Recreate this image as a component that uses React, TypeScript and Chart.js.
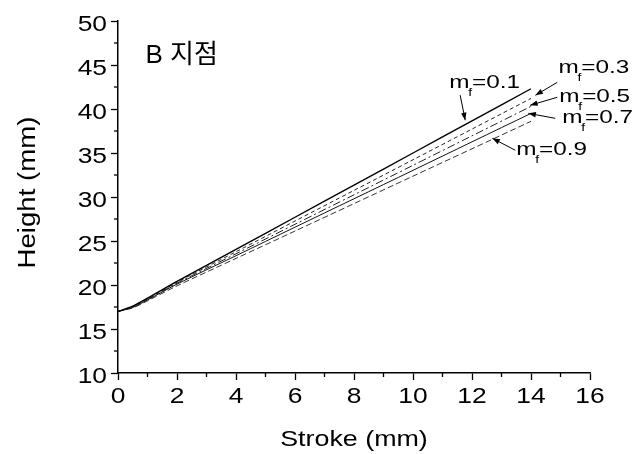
import React, { useEffect, useRef } from "react";
import { Chart, registerables } from "chart.js";

Chart.register(...registerables);

const stroke = [0, 0.5, 1, 2, 4, 6, 8, 10, 12, 14];
const mf01 = [17, 17.6, 18.5, 20.4, 24.05, 27.7, 31.35, 35.0, 38.65, 42.3];
const mf03 = [17, 17.55, 18.4, 20.3, 23.78, 27.27, 30.75, 34.23, 37.72, 41.2];
const mf05 = [17, 17.5, 18.35, 20.2, 23.55, 26.9, 30.25, 33.6, 36.95, 40.3];
const mf07 = [17, 17.45, 18.3, 20.1, 23.33, 26.57, 29.8, 33.03, 36.27, 39.5];
const mf09 = [17, 17.4, 18.2, 19.9, 23.02, 26.13, 29.25, 32.37, 35.48, 38.6];

const seriesNames = ["0.1", "0.3", "0.5", "0.7", "0.9"];
const seriesValues = [mf01, mf03, mf05, mf07, mf09];

const xTicks = [0, 2, 4, 6, 8, 10, 12, 14, 16];
const yTicks = [10, 15, 20, 25, 30, 35, 40, 45, 50];
const xTitle = "Stroke (mm)";
const yTitle = "Height (mm)";

// label anchors in data units
const labelX = [11.23, 14.93, 14.96, 15.06, 13.5];
const labelY = [42.35, 44.06, 40.76, 38.38, 34.74];
const arrowFromX = [11.6, 14.89, 14.89, 14.82, 13.47];
const arrowFromY = [41.57, 43.03, 41.33, 38.94, 35.31];
const arrowToX = [11.77, 14.15, 13.97, 13.91, 12.69];
const arrowToY = [38.72, 41.56, 40.42, 39.51, 36.67];

const titleText = "B 지점";
const titleX = 0.93;
const titleY = 45.2;

const FONT = "'Liberation Sans', Arial, 'Noto Sans CJK KR', sans-serif";
const KFONT = "'Liberation Sans', 'Noto Sans CJK KR', sans-serif";

const styles = [
  { dash: [], width: 1.4, color: "#000" },
  { dash: [4, 3], width: 1, color: "#222" },
  { dash: [8, 3, 2, 3], width: 1, color: "#222" },
  { dash: [], width: 1, color: "#111" },
  { dash: [6, 3], width: 1, color: "#333" },
];

function sText(ctx: any, text: string, x: number, y: number, align: string, sx: number, font: string, rot = 0) {
  ctx.save();
  ctx.translate(x, y);
  if (rot) ctx.rotate(rot);
  ctx.scale(sx, 1);
  ctx.font = font;
  ctx.textAlign = align;
  ctx.textBaseline = "alphabetic";
  ctx.fillText(text, 0, 0);
  ctx.restore();
}

const overlay = {
  id: "overlay",
  afterDraw(chart: any) {
    const ctx = chart.ctx;
    const xs = chart.scales.x;
    const ys = chart.scales.y;
    ctx.save();
    ctx.strokeStyle = "#000";
    ctx.fillStyle = "#000";
    ctx.lineWidth = 1.3;
    // minor ticks
    for (let v = 1; v < 16; v += 2) {
      const px = xs.getPixelForValue(v);
      ctx.beginPath();
      ctx.moveTo(px, ys.bottom);
      ctx.lineTo(px, ys.bottom + 4);
      ctx.stroke();
    }
    for (let v = 12.5; v < 50; v += 5) {
      const py = ys.getPixelForValue(v);
      ctx.beginPath();
      ctx.moveTo(xs.left, py);
      ctx.lineTo(xs.left - 4, py);
      ctx.stroke();
    }
    // tick labels
    const tickFont = `22px ${FONT}`;
    for (const v of xTicks) {
      sText(ctx, String(v), xs.getPixelForValue(v), ys.bottom + 30, "center", 1.2, tickFont);
    }
    for (const v of yTicks) {
      sText(ctx, String(v), xs.left - 11, ys.getPixelForValue(v) + 10, "right", 1.2, tickFont);
    }
    // axis titles
    sText(ctx, xTitle, (xs.left + xs.right) / 2, 446, "center", 1.22, `22px ${FONT}`);
    sText(ctx, yTitle, 35, 192.5, "center", 1.2, `23px ${FONT}`, -Math.PI / 2);
    // title
    ctx.font = `26px ${KFONT}`;
    ctx.textAlign = "left";
    ctx.textBaseline = "alphabetic";
    ctx.fillText(titleText, xs.getPixelForValue(titleX), ys.getPixelForValue(titleY));
    // labels
    const sx = 1.28;
    for (let i = 0; i < seriesNames.length; i++) {
      const lx = xs.getPixelForValue(labelX[i]);
      const ly = ys.getPixelForValue(labelY[i]);
      ctx.save();
      ctx.translate(lx, ly);
      ctx.scale(sx, 1);
      ctx.textAlign = "left";
      ctx.textBaseline = "alphabetic";
      ctx.font = `19px ${FONT}`;
      ctx.fillText("m", 0, 0);
      const mw = ctx.measureText("m").width;
      ctx.font = `11px ${FONT}`;
      ctx.fillText("f", mw - 1, 8);
      ctx.font = `19px ${FONT}`;
      ctx.fillText("=" + seriesNames[i], mw + 2, 0);
      ctx.restore();
      // arrow
      const ax = xs.getPixelForValue(arrowFromX[i]);
      const ay = ys.getPixelForValue(arrowFromY[i]);
      const bx = xs.getPixelForValue(arrowToX[i]);
      const by = ys.getPixelForValue(arrowToY[i]);
      ctx.lineWidth = 1;
      ctx.beginPath();
      ctx.moveTo(ax, ay);
      ctx.lineTo(bx, by);
      ctx.stroke();
      const ang = Math.atan2(by - ay, bx - ax);
      const L = 8, W = 0.35;
      ctx.beginPath();
      ctx.moveTo(bx, by);
      ctx.lineTo(bx - L * Math.cos(ang - W), by - L * Math.sin(ang - W));
      ctx.lineTo(bx - L * Math.cos(ang + W), by - L * Math.sin(ang + W));
      ctx.closePath();
      ctx.fill();
    }
    ctx.restore();
  },
};

export default function App() {
  const ref = useRef<HTMLCanvasElement>(null);
  useEffect(() => {
    if (!ref.current) return;
    const chart = new Chart(ref.current, {
      type: "line",
      data: {
        datasets: seriesValues.map((vals, i) => ({
          label: "mf=" + seriesNames[i],
          data: stroke.map((x, j) => ({ x, y: vals[j] })),
          borderColor: styles[i].color,
          borderWidth: styles[i].width,
          borderDash: styles[i].dash,
          pointRadius: 0,
          tension: 0.3,
          fill: false,
        })),
      },
      options: {
        responsive: false,
        animation: false,
        layout: { padding: { left: 0, top: 21, right: 53, bottom: 0 } },
        plugins: { legend: { display: false }, tooltip: { enabled: false } },
        scales: {
          x: {
            type: "linear",
            min: 0,
            max: 16,
            afterFit: (s: any) => { s.height = 81; },
            ticks: { stepSize: 2, display: false },
            grid: { display: true, drawOnChartArea: false, tickLength: 7, tickColor: "#000", tickWidth: 1.3 },
            border: { display: true, color: "#000", width: 1.5 },
          },
          y: {
            type: "linear",
            min: 10,
            max: 50,
            afterFit: (s: any) => { s.width = 118; },
            ticks: { stepSize: 5, display: false },
            grid: { display: true, drawOnChartArea: false, tickLength: 7, tickColor: "#000", tickWidth: 1.3 },
            border: { display: true, color: "#000", width: 1.5 },
          },
        },
      },
      plugins: [overlay],
    });
    return () => chart.destroy();
  }, []);
  return (
    <div style={{ position: "absolute", left: 0, top: 0, width: 643, height: 454, background: "#fff" }}>
      <canvas ref={ref} width={643} height={454} style={{ display: "block" }} />
    </div>
  );
}
